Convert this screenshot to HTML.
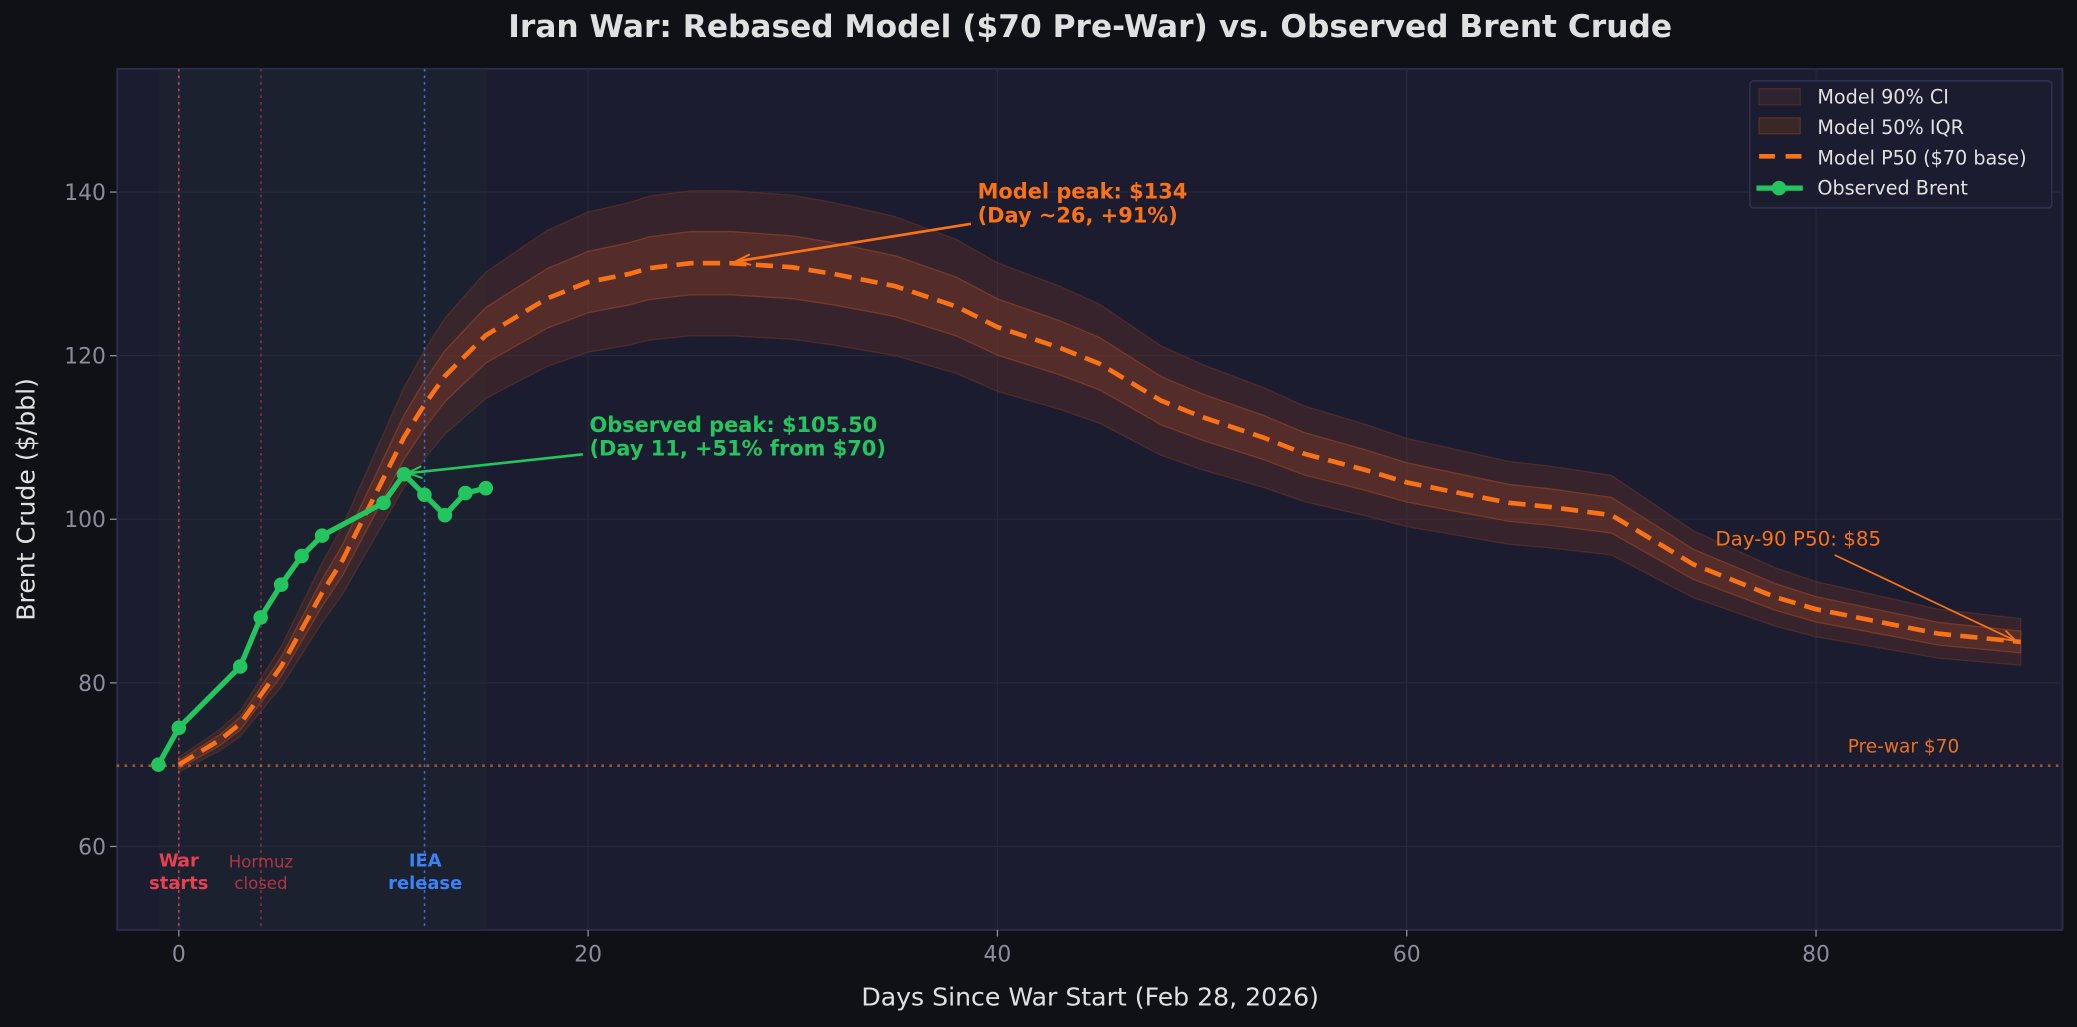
<!DOCTYPE html>
<html><head><meta charset="utf-8"><style>
html,body{margin:0;padding:0;background:#0f1117;}
svg{display:block;font-family:"DejaVu Sans","Liberation Sans",sans-serif;}
</style></head><body>
<svg id="s" width="2077" height="1027" viewBox="0 0 1568 775.3" preserveAspectRatio="none" xmlns="http://www.w3.org/2000/svg">
<rect x="0" y="0" width="1568" height="776" fill="#0f1117"/>
<text x="823" y="28" text-anchor="middle" fill="#e0e0e0" font-size="23.6" font-weight="bold">Iran War: Rebased Model ($70 Pre-War) vs. Observed Brent Crude</text>
<rect x="88.5" y="52" width="1468.5" height="650" fill="#1b1c2f" stroke="#2c2c4a" stroke-width="1.5"/>
<rect x="120" y="52.5" width="247" height="649" fill="#1c2230" opacity="0.85"/>
<g id="grid" stroke="#262738" stroke-width="1"></g>
<g id="bands"></g>
<line x1="135" y1="52" x2="135" y2="702" stroke="#d04050" stroke-width="1.2" stroke-dasharray="2,3"/>
<line x1="197" y1="52" x2="197" y2="702" stroke="#8a3040" stroke-width="1.2" stroke-dasharray="2,3"/>
<line x1="320.5" y1="52" x2="320.5" y2="702" stroke="#3b6fd0" stroke-width="1.2" stroke-dasharray="2,3"/>
<line x1="88" y1="578" x2="1557" y2="578" stroke="#c06020" stroke-width="2" stroke-dasharray="2,4" opacity="0.85"/>
<g id="lines"></g>
<g fill="#8a8d99" font-size="16.5" text-anchor="end" id="yt"></g>
<g fill="#8a8d99" font-size="16.5" text-anchor="middle" id="xt"></g>
<text x="823" y="759" text-anchor="middle" fill="#e0e0e0" font-size="19">Days Since War Start (Feb 28, 2026)</text>
<text transform="translate(26,377) rotate(-90)" text-anchor="middle" fill="#e0e0e0" font-size="19">Brent Crude ($/bbl)</text>
<text x="135" y="654" text-anchor="middle" fill="#e84050" font-size="13.5" font-weight="bold">War</text>
<text x="135" y="671" text-anchor="middle" fill="#e84050" font-size="13.5" font-weight="bold">starts</text>
<text x="197" y="655" text-anchor="middle" fill="#b03545" font-size="12.5">Hormuz</text>
<text x="197" y="671" text-anchor="middle" fill="#b03545" font-size="12.5">closed</text>
<text x="321" y="654" text-anchor="middle" fill="#3b82f6" font-size="13.5" font-weight="bold">IEA</text>
<text x="321" y="671" text-anchor="middle" fill="#3b82f6" font-size="13.5" font-weight="bold">release</text>
<text x="1437" y="568" text-anchor="middle" fill="#e87020" font-size="14">Pre-war $70</text>
<text x="738" y="150" fill="#f97316" font-size="15.8" font-weight="bold">Model peak: $134</text>
<text x="738" y="168" fill="#f97316" font-size="15.8" font-weight="bold">(Day ~26, +91%)</text>
<line x1="733" y1="169" x2="558" y2="197" stroke="#f97316" stroke-width="2"/>
<path d="M566,192 L556,197 L567,200" fill="none" stroke="#f97316" stroke-width="1.5"/>
<text x="445" y="326" fill="#22c55e" font-size="15.8" font-weight="bold">Observed peak: $105.50</text>
<text x="445" y="344" fill="#22c55e" font-size="15.8" font-weight="bold">(Day 11, +51% from $70)</text>
<line x1="440" y1="343" x2="310" y2="357" stroke="#22c55e" stroke-width="2"/>
<path d="M318,352 L308,357 L319,361" fill="none" stroke="#22c55e" stroke-width="1.5"/>
<text x="1295" y="412" fill="#f97316" font-size="15">Day-90 P50: $85</text>
<line x1="1385" y1="419" x2="1520" y2="483" stroke="#f97316" stroke-width="1.3"/>
<path d="M1510,482 L1522,484 L1514,476" fill="none" stroke="#f97316" stroke-width="1.3"/>
<g>
<rect x="1321" y="61" width="228" height="96" rx="3" fill="#1b1c2f" stroke="#2e3050" stroke-width="1.2"/>
<rect x="1328" y="67" width="31" height="12" fill="#2e2430" stroke="#4a2e2a" stroke-width="1"/>
<text x="1372" y="78" fill="#e0e0e0" font-size="14.5">Model 90% CI</text>
<rect x="1328" y="89" width="31" height="12" fill="#3a2828" stroke="#5a3220" stroke-width="1"/>
<text x="1372" y="101" fill="#e0e0e0" font-size="14.5">Model 50% IQR</text>
<line x1="1328" y1="118" x2="1360" y2="118" stroke="#f97316" stroke-width="3.5" stroke-dasharray="12,8"/>
<text x="1372" y="124" fill="#e0e0e0" font-size="14.5">Model P50 ($70 base)</text>
<line x1="1326" y1="142" x2="1361" y2="142" stroke="#22c55e" stroke-width="4"/>
<circle cx="1343" cy="142" r="5.5" fill="#22c55e"/>
<text x="1372" y="147" fill="#e0e0e0" font-size="14.5">Observed Brent</text>
</g>
<script>
(function(){
var NS="http://www.w3.org/2000/svg";
function X(d){return 135+15.45*d;}
function Y(v){return 145+(140-v)*6.175;}
function el(p,t,a){var e=document.createElementNS(NS,t);for(var k in a)e.setAttribute(k,a[k]);p.appendChild(e);return e;}
var g=document.getElementById('grid');
[0,20,40,60,80].forEach(function(d){el(g,'line',{x1:X(d),y1:52,x2:X(d),y2:702});});
[60,80,100,120,140].forEach(function(v){el(g,'line',{x1:88,y1:Y(v),x2:1557,y2:Y(v)});});
var yt=document.getElementById('yt');
[60,80,100,120,140].forEach(function(v){el(yt,'line',{x1:83,y1:Y(v),x2:88,y2:Y(v),stroke:'#8a8d99'});var t=el(yt,'text',{x:80,y:Y(v)+6});t.textContent=v;});
var xt=document.getElementById('xt');
[0,20,40,60,80].forEach(function(d){el(xt,'line',{x1:X(d),y1:702,x2:X(d),y2:707,stroke:'#8a8d99'});var t=el(xt,'text',{x:X(d),y:726});t.textContent=d;});
var k=[[0,70],[1,71.5],[2,73],[3,75],[4,78.5],[5,82],[6,86.5],[7,91],[8,95],[9,100],[10,105],[11,110],[12,114],[13,117.5],[14,120],[15,122.5],[16,124],[17,125.5],[18,127],[19,128],[20,129],[22,130],[23,130.7],[25,131.3],[27,131.3],[30,130.8],[32,130],[35,128.5],[38,126],[40,123.5],[43,121],[45,119],[48,114.5],[50,112.5],[53,110],[55,108],[58,106],[60,104.5],[63,103],[65,102],[67,101.5],[70,100.5],[72,97.5],[74,94.5],[76,92.5],[78,90.5],[80,89],[83,87.5],[86,86],[90,85]];
function pts(f){return k.map(function(p){return X(p[0]).toFixed(1)+','+Y(f(p)).toFixed(1);});}
function band(a,b,fill,stroke){var up=k.map(function(p){return X(p[0]).toFixed(1)+','+Y(p[1]+a(p)).toFixed(1);});var dn=k.map(function(p){return X(p[0]).toFixed(1)+','+Y(p[1]-b(p)).toFixed(1);}).reverse();el(document.getElementById('bands'),'polygon',{points:up.concat(dn).join(' '),fill:fill,stroke:stroke,'stroke-width':1});}
band(function(p){return 0.13*(p[1]-70)+0.9;},function(p){return 0.13*(p[1]-70)+0.9;},'rgba(110,50,40,0.35)','rgba(110,55,40,0.5)');
band(function(p){return 0.055*(p[1]-70)+0.5;},function(p){return 0.055*(p[1]-70)+0.5;},'rgba(120,55,40,0.45)','rgba(150,70,40,0.6)');
var L=document.getElementById('lines');
el(L,'polyline',{points:pts(function(p){return p[1];}).join(' '),fill:'none',stroke:'#f97316','stroke-width':3.5,'stroke-dasharray':'13,7'});
var o=[[-1,70],[0,74.5],[3,82],[4,88],[5,92],[6,95.5],[7,98],[10,102],[11,105.5],[12,103],[13,100.5],[14,103.2],[15,103.8]];
el(L,'polyline',{points:o.map(function(p){return X(p[0])+','+Y(p[1]);}).join(' '),fill:'none',stroke:'#22c55e','stroke-width':4,'stroke-linejoin':'round'});
o.forEach(function(p){el(L,'circle',{cx:X(p[0]),cy:Y(p[1]),r:5.5,fill:'#22c55e'});});
})();
</script>
</svg>
</body></html>
